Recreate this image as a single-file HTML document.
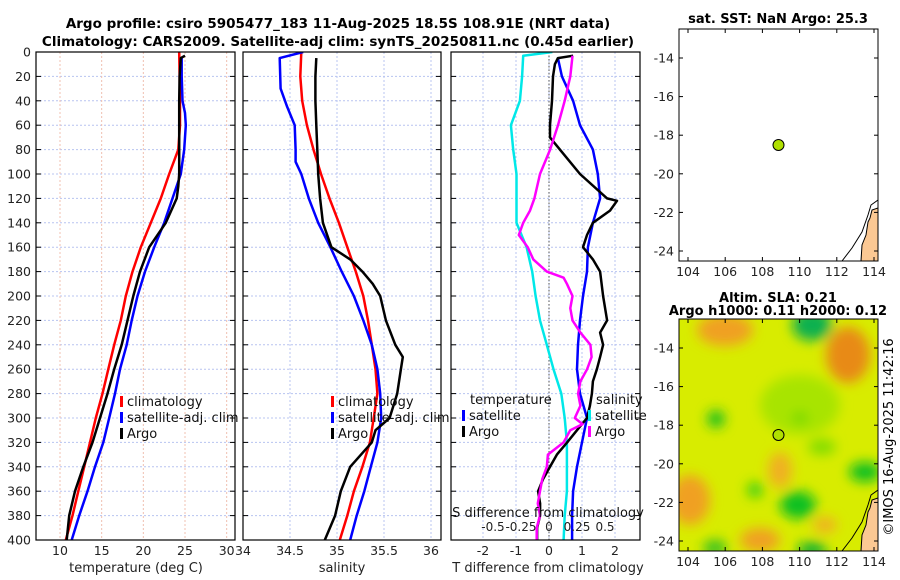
<!DOCTYPE html>
<html><head><meta charset="utf-8"><style>
body{margin:0;background:#fff;}
svg{display:block;font-family:"DejaVu Sans","Liberation Sans",sans-serif;}
</style></head><body>
<svg id="fig" width="900" height="580" viewBox="0 0 900 580">
<defs>
<filter id="blur" x="-20%" y="-20%" width="140%" height="140%"><feGaussianBlur stdDeviation="6"/></filter>
<clipPath id="clipmap2"><rect x="679" y="319" width="199" height="232"/></clipPath>
<clipPath id="clipmap1"><rect x="679" y="29" width="199" height="232"/></clipPath>
<clipPath id="c1"><rect x="36" y="52" width="199" height="488"/></clipPath>
<clipPath id="c2"><rect x="243" y="52" width="198" height="488"/></clipPath>
<clipPath id="c3"><rect x="451" y="52" width="189" height="488"/></clipPath>
</defs>
<text x="338" y="28" text-anchor="middle" font-weight="bold" font-size="13.5">Argo profile: csiro 5905477_183 11-Aug-2025 18.5S 108.91E (NRT data)</text>
<text x="338" y="46" text-anchor="middle" font-weight="bold" font-size="13.5">Climatology: CARS2009. Satellite-adj clim: synTS_20250811.nc (0.45d earlier)</text>
<g id="axes"></g>
<g id="maps">
 <text x="778" y="23" text-anchor="middle" font-weight="bold" font-size="13">sat. SST: NaN Argo: 25.3</text>
 <rect x="679" y="29" width="199" height="232" fill="#fff" stroke="#000"/>
 <g clip-path="url(#clipmap1)">
  <path d="M878,208 L872,210 L870,218 L868,222 L866,235 L862,245 L861,261 L878,261 Z" fill="#fbc893" stroke="#000"/>
  <path d="M878,200 L871,205 L868,215 L862,232 L852,248 L842,261" fill="none" stroke="#000" stroke-width="1"/>
 </g>
 <circle cx="778.5" cy="145" r="5.5" fill="#b0e000" stroke="#000"/>
 <text x="778" y="302" text-anchor="middle" font-weight="bold" font-size="13">Altim. SLA: 0.21</text>
 <text x="778" y="315" text-anchor="middle" font-weight="bold" font-size="13">Argo h1000: 0.11 h2000: 0.12</text>
 <g clip-path="url(#clipmap2)">
  <rect x="679" y="319" width="199" height="232" fill="#d8ec00"/>
  <g filter="url(#blur)">
   <ellipse cx="725" cy="330" rx="28" ry="16" fill="#f0a020"/>
   <ellipse cx="848" cy="355" rx="22" ry="28" fill="#e88a18"/>
   <ellipse cx="690" cy="500" rx="20" ry="25" fill="#f0a020"/>
   <ellipse cx="780" cy="470" rx="12" ry="18" fill="#f0b020"/>
   <ellipse cx="760" cy="540" rx="20" ry="12" fill="#f0a020"/>
   <ellipse cx="825" cy="525" rx="12" ry="8" fill="#f0b020"/>
   <ellipse cx="812" cy="325" rx="20" ry="16" fill="#10b050"/>
   <ellipse cx="800" cy="405" rx="40" ry="30" fill="#a8e400"/>
   <ellipse cx="716" cy="419" rx="9" ry="9" fill="#20c020"/>
   <ellipse cx="798" cy="505" rx="18" ry="14" fill="#10c020"/>
   <ellipse cx="865" cy="472" rx="16" ry="10" fill="#10c020"/>
   <ellipse cx="755" cy="490" rx="8" ry="8" fill="#40d010"/>
   <ellipse cx="715" cy="548" rx="12" ry="8" fill="#30c020"/>
   <ellipse cx="812" cy="550" rx="15" ry="8" fill="#10b030"/>
   <ellipse cx="822" cy="447" rx="14" ry="8" fill="#80dc00"/>
   <ellipse cx="800" cy="418" rx="8" ry="6" fill="#70d800"/>
  </g>
  <path d="M878,498 L872,500 L870,508 L868,512 L866,525 L862,535 L861,551 L878,551 Z" fill="#fbc893" stroke="#000"/>
  <path d="M878,490 L871,495 L868,505 L862,522 L852,538 L842,551" fill="none" stroke="#000"/>
 </g>
 <rect x="679" y="319" width="199" height="232" fill="none" stroke="#000"/>
 <circle cx="778.5" cy="435" r="5.5" fill="#b0e000" stroke="#000"/>
 <g id="mapticks"></g>
 <text transform="translate(893,437) rotate(-90)" text-anchor="middle" font-size="13">©IMOS 16-Aug-2025 11:42:16</text>
</g>
</svg>
<script>
// ---- data ----
const depths = [0,20,40,60,80,100,120,140,160,180,200,220,240,260,280,300,320,340,360,380,400];
const tempClim = [24.3,24.35,24.4,24.4,24.2,23.1,22.1,20.9,19.7,18.7,17.9,17.3,16.5,15.8,15.1,14.3,13.6,12.9,12.2,11.5,10.7];
const satDepths = [5,20,40,50,60,80,100,120,140,160,180,200,220,240,260,280,300,320,340,360,380,400];
const tempSat = [24.6,24.6,24.7,25.0,25.1,24.9,24.5,23.5,22.5,21.3,20.2,19.3,18.6,18.0,17.2,16.6,15.9,15.2,14.2,13.3,12.3,11.4];
const argoDepths = [3,5,20,40,60,80,100,110,120,140,160,180,200,220,240,260,280,300,320,340,360,380,400];
const tempArgo = [25.0,24.5,24.35,24.3,24.3,24.3,24.3,24.2,24.0,22.7,20.7,19.6,18.8,18.1,17.4,16.5,15.7,14.8,13.9,12.8,11.8,11.1,10.8];
const salClim = [34.62,34.61,34.63,34.68,34.75,34.83,34.92,35.02,35.11,35.2,35.28,35.33,35.37,35.41,35.43,35.39,35.35,35.27,35.18,35.11,35.03];
const salSatDepths = [0,5,30,45,60,80,90,100,120,140,160,180,200,220,240,260,280,300,320,340,360,380,400];
const salSat = [34.64,34.39,34.40,34.47,34.55,34.56,34.56,34.62,34.7,34.8,34.93,35.05,35.18,35.28,35.37,35.43,35.46,35.47,35.43,35.36,35.29,35.21,35.14];
const salArgoDepths = [5,20,40,60,80,100,120,140,160,170,180,190,200,220,240,250,260,280,300,310,320,340,360,380,400];
const salArgo = [34.78,34.77,34.77,34.78,34.79,34.8,34.82,34.85,34.94,35.14,35.27,35.38,35.46,35.52,35.62,35.7,35.68,35.64,35.56,35.41,35.37,35.14,35.04,34.98,34.87];
const dSatDepths = [0,3,20,40,60,80,100,120,140,160,180,200,220,240,260,280,300,320,340,360,380,400];
const sDiffSat = [0.03,-0.23,-0.24,-0.26,-0.34,-0.32,-0.29,-0.29,-0.29,-0.2,-0.15,-0.12,-0.08,-0.02,0.04,0.11,0.14,0.16,0.16,0.16,0.14,0.13];
const dArgoSDepths = [3,20,40,60,80,100,120,130,140,150,160,170,180,185,190,200,210,220,230,240,250,260,270,280,290,300,305,310,320,330,340,350,360,370,380,390,400];
const sDiffArgo = [0.21,0.19,0.14,0.08,0.01,-0.08,-0.13,-0.17,-0.23,-0.27,-0.19,-0.14,-0.02,0.13,0.16,0.21,0.19,0.21,0.28,0.37,0.38,0.34,0.28,0.26,0.28,0.23,0.30,0.19,0.13,-0.01,-0.02,-0.06,-0.08,-0.10,-0.08,-0.11,-0.11];
const dTSatDepths = [5,20,40,60,80,100,120,140,160,180,200,220,240,260,280,300,320,340,360,380,400];
const tDiffSat = [0.27,0.39,0.73,0.94,1.33,1.48,1.55,1.33,1.18,1.15,1.03,0.94,0.88,0.85,0.94,1.15,1.0,0.85,0.73,0.7,0.7];
const dTArgoDepths = [3,5,10,20,40,60,70,80,100,120,122,130,140,150,160,170,180,200,220,230,240,250,260,270,280,290,300,310,320,330,340,350,360,370,380,390,400];
const tDiffArgo = [0.73,0.27,0.18,0.12,0.09,0.03,0.03,0.33,0.94,1.76,2.06,1.85,1.33,1.15,1.03,1.33,1.55,1.64,1.76,1.55,1.64,1.55,1.45,1.33,1.3,1.24,1.15,0.85,0.55,0.24,0.03,-0.18,-0.33,-0.27,-0.27,-0.36,-0.36];
const depthTicks = [0,20,40,60,80,100,120,140,160,180,200,220,240,260,280,300,320,340,360,380,400];
const tempTicks = [10,15,20,25,30];
const salTicks = [34,34.5,35,35.5,36];
const tDiffTicks = [-2,-1,0,1,2];
const sDiffTicks = [-0.5,-0.25,0,0.25,0.5];
const lonTicks = [104,106,108,110,112,114];
const latTicks = [-14,-16,-18,-20,-22,-24];

const NS='http://www.w3.org/2000/svg';
const axesG=document.getElementById('axes');
function mk(tag,attrs,parent,txt){const e=document.createElementNS(NS,tag);for(const k in attrs)e.setAttribute(k,attrs[k]);if(txt!==undefined)e.textContent=txt;(parent||axesG).appendChild(e);return e;}
const yTop=52,yBot=540;
const yD=d=>yTop+(yBot-yTop)*d/400;
const xT=v=>60+(v-10)*(185-60)/15;
const xS=v=>243+(v-34)*94;
const xTD=v=>549+v*33;
const xSD=v=>549+v*112;

function panel(name,x0,x1,xticks,xf,vgridColor){
  const g=mk('g',{});
  
  
  depthTicks.forEach(d=>{if(d>0&&d<400){const l=mk('line',{x1:x0,x2:x1,y1:yD(d),y2:yD(d),stroke:'#b8c4f0','stroke-width':1,'stroke-dasharray':'2,2'},g);
    
    }
    mk('line',{x1:x0,x2:x0+5,y1:yD(d),y2:yD(d),stroke:'#000'},g);mk('line',{x1:x1-5,x2:x1,y1:yD(d),y2:yD(d),stroke:'#000'},g);});
  xticks.forEach(v=>{const x=xf(v);if(x>x0+1&&x<x1-1){const l=mk('line',{x1:x,x2:x,y1:yTop,y2:yBot,stroke:vgridColor,'stroke-width':1,'stroke-dasharray':'2,2'},g);
    
    }});
  return g;
}
function frame(g,x0,x1){const r=mk('rect',{x:x0,y:yTop,width:x1-x0,height:yBot-yTop,fill:'none',stroke:'#000','stroke-width':1.2},g);
  
  }
function line(g,ds,vs,xf,color,clip,name,w){
  const p=mk('path',{d:ds.map((d,i)=>(i?'L':'M')+xf(vs[i]).toFixed(1)+','+yD(d).toFixed(1)).join(''),fill:'none',stroke:color,'stroke-width':w||2.5,'stroke-linejoin':'round','clip-path':'url(#'+clip+')'},g);
  
  
}
function xlabels(g,ticks,xf,y,fs){ticks.forEach(v=>{const t=mk('text',{x:xf(v),y:y,'text-anchor':'middle','font-size':fs||12.5,fill:'#222'},g,String(v));
  
  });}
function legend(g,x,y,items){items.forEach((it,i)=>{const yy=y+i*16;
  mk('rect',{x:x,y:yy-10,width:3,height:11,fill:it[0]},g);
  const t=mk('text',{x:x+7,y:yy,'font-size':13,fill:'#111'},g,it[1]);
  
  });}

// Panel 1
let g1=panel('temperature-panel',36,235,tempTicks,xT,'#f0c0b0');
line(g1,depths,tempClim,xT,'#ff0000','c1','temp-climatology-line');
line(g1,satDepths,tempSat,xT,'#0000ff','c1','temp-satellite-line');
line(g1,argoDepths,tempArgo,xT,'#000','c1','temp-argo-line');
frame(g1,36,235);
depthTicks.forEach(d=>{const t=mk('text',{x:31,y:yD(d)+4.5,'text-anchor':'end','font-size':12.5,fill:'#222'},g1,String(d));
  
  });
xlabels(g1,tempTicks,xT,555);
let t1=mk('text',{x:136,y:572,'text-anchor':'middle','font-size':13,fill:'#222'},g1,'temperature (deg C)');


legend(g1,120,406,[['#ff0000','climatology'],['#0000ff','satellite-adj. clim'],['#000','Argo']]);

// Panel 2
let g2=panel('salinity-panel',243,441,salTicks,xS,'#b8c4f0');
line(g2,depths,salClim,xS,'#ff0000','c2','sal-climatology-line');
line(g2,salSatDepths,salSat,xS,'#0000ff','c2','sal-satellite-line');
line(g2,salArgoDepths,salArgo,xS,'#000','c2','sal-argo-line');
frame(g2,243,441);
xlabels(g2,salTicks,xS,555);
let t2=mk('text',{x:342,y:572,'text-anchor':'middle','font-size':13,fill:'#222'},g2,'salinity');


legend(g2,331,406,[['#ff0000','climatology'],['#0000ff','satellite-adj. clim'],['#000','Argo']]);

// Panel 3
let g3=panel('difference-panel',451,640,tDiffTicks,xTD,'#b8c4f0');
let z=mk('line',{x1:549,x2:549,y1:yTop,y2:yBot,stroke:'#555','stroke-dasharray':'1.5,2'},g3);


line(g3,dSatDepths,sDiffSat,xSD,'#00e8e8','c3','sal-diff-satellite-line');
line(g3,dTSatDepths,tDiffSat,xTD,'#0000ff','c3','temp-diff-satellite-line');
line(g3,dTArgoDepths,tDiffArgo,xTD,'#000','c3','temp-diff-argo-line');
line(g3,dArgoSDepths,sDiffArgo,xSD,'#ff00ff','c3','sal-diff-argo-line');
frame(g3,451,640);
xlabels(g3,tDiffTicks,xTD,555);
xlabels(g3,sDiffTicks,xSD,531,12);
let t3=mk('text',{x:548,y:572,'text-anchor':'middle','font-size':13,fill:'#222'},g3,'T difference from climatology');


let t4=mk('text',{x:548,y:517,'text-anchor':'middle','font-size':13,fill:'#111'},g3,'S difference from climatology');


let lt=mk('text',{x:470,y:404,'font-size':13,fill:'#111'},g3,'temperature');


let ls=mk('text',{x:596,y:404,'font-size':13,fill:'#111'},g3,'salinity');


legend(g3,462,420,[['#0000ff','satellite'],['#000','Argo']]);
legend(g3,588,420,[['#00e8e8','satellite'],['#ff00ff','Argo']]);

// Map ticks
const mt=document.getElementById('mapticks');
const xLon=v=>688+(v-104)*18.6;
const yLat1=v=>58+(-14-v)*19.3;
[[29,261,0],[319,551,290]].forEach(([y0,y1,off])=>{
  lonTicks.forEach(v=>{const x=xLon(v);
    mk('line',{x1:x,x2:x,y1:y1,y2:y1-4,stroke:'#000'},mt);mk('line',{x1:x,x2:x,y1:y0,y2:y0+4,stroke:'#000'},mt);
    const t=mk('text',{x:x,y:y1+15,'text-anchor':'middle','font-size':12.5,fill:'#222'},mt,String(v));
    
    });
  latTicks.forEach(v=>{const y=yLat1(v)+off;
    mk('line',{x1:679,x2:683,y1:y,y2:y,stroke:'#000'},mt);mk('line',{x1:874,x2:878,y1:y,y2:y,stroke:'#000'},mt);
    const t=mk('text',{x:674,y:y+4.5,'text-anchor':'end','font-size':12.5,fill:'#222'},mt,String(v));
    
    });
});
</script>
</body></html>
